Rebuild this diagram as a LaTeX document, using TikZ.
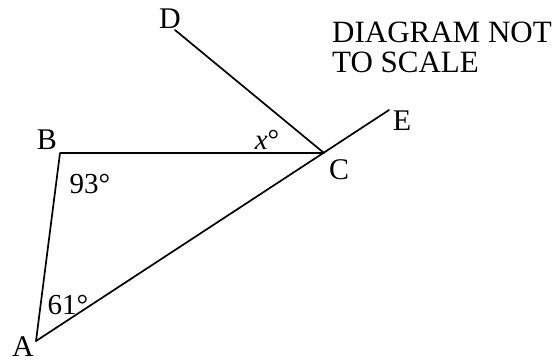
\documentclass[tikz,border=0pt]{standalone}
\usepackage{fontspec}
\setmainfont{Liberation Serif}
\begin{document}
\begin{tikzpicture}[x=1pt,y=-1pt,
  edge/.style={line width=1.7pt,line cap=round,line join=round},
  lbl/.style={inner sep=0pt,font=\fontsize{30}{32}\selectfont},
  ang/.style={inner sep=0pt,font=\fontsize{29}{32}\selectfont},
  note/.style={inner sep=0pt,anchor=west,font=\fontsize{31}{34}\selectfont}]
\useasboundingbox (0,0) rectangle (559,362);
\coordinate (A) at (36,341);
\coordinate (B) at (60,153);
\coordinate (C) at (324,153);
\coordinate (D) at (175,30);
\coordinate (E) at (389,110);
\draw[edge] (A) -- (B) -- (C);
\draw[edge] (A) -- (E);
\draw[edge] (C) -- (D);
\node[lbl] (lA) at (23,347) {A};
\node[lbl] (lB) at (47,140) {B};
\node[lbl] (lC) at (339,170) {C};
\node[lbl] (lD) at (170,19) {D};
\node[lbl] (lE) at (402,121) {E};
\node[ang] (ax) at (267,140) {\itshape x\upshape°};
\node[ang] (a93) at (90,184) {93°};
\node[ang] (a61) at (68,305) {61°};
\node[note] (n1) at (332,32) {DIAGRAM NOT};
\node[note] (n2) at (332,62) {TO SCALE};
\end{tikzpicture}
\end{document}
